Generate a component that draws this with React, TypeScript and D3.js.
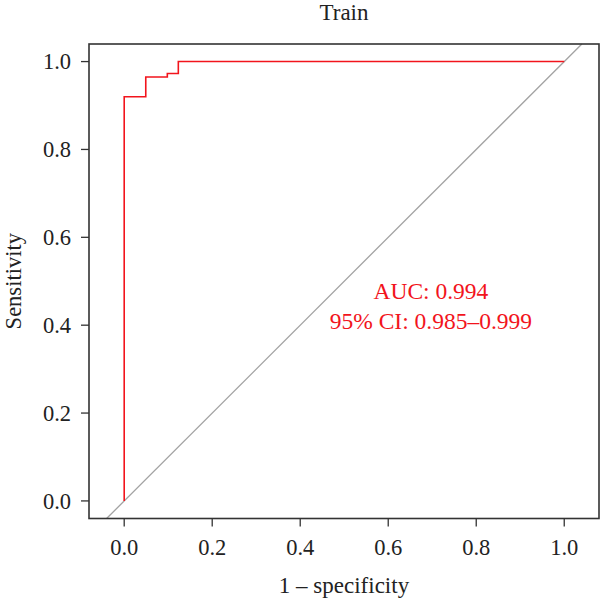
import { useEffect, useRef } from "react";
import * as d3 from "d3";

// ROC points (x = 1 - specificity, y = sensitivity)
const fpr = [0, 0, 0.049, 0.049, 0.098, 0.098, 0.123, 0.123, 1];
const tpr = [0, 0.92, 0.92, 0.965, 0.965, 0.973, 0.973, 1, 1];
const ticks = [0, 0.2, 0.4, 0.6, 0.8, 1.0];
const title = "Train";
const aucLines = ["AUC: 0.994", "95% CI: 0.985\u20130.999"];

const FONT = "'Liberation Serif', 'DejaVu Serif', serif";

const App = () => {
  const ref = useRef<SVGSVGElement>(null);

  useEffect(() => {
    const width = 600;
    const height = 604;
    const svg = d3.select(ref.current);
    svg.selectAll("*").remove();
    svg.attr("width", width).attr("height", height);

    const x = d3.scaleLinear().domain([-0.08, 1.079]).range([89, 599]);
    const y = d3.scaleLinear().domain([-0.04, 1.04]).range([518.5, 44]);

    const [x0, x1] = x.range();
    const [y0, y1] = y.range();

    // diagonal reference line
    const lim = y.domain();
    svg.append("line")
      .attr("x1", x(lim[0])).attr("y1", y(lim[0]))
      .attr("x2", x(lim[1])).attr("y2", y(lim[1]))
      .attr("stroke", "#a3a3a3")
      .attr("stroke-width", 1.3);

    // ROC curve
    const pts = fpr.map((f, i) => [f, tpr[i]] as [number, number]);
    svg.append("path")
      .datum(pts)
      .attr("fill", "none")
      .attr("stroke", "#f2141c")
      .attr("stroke-width", 1.6)
      .attr("d", d3.line<[number, number]>().x((d) => x(d[0])).y((d) => y(d[1])));

    // frame
    svg.append("rect")
      .attr("x", x0).attr("y", y1)
      .attr("width", x1 - x0).attr("height", y0 - y1)
      .attr("fill", "none")
      .attr("stroke", "#333")
      .attr("stroke-width", 1.6);

    // x axis
    const xa = svg.append("g");
    xa.selectAll("line").data(ticks).join("line")
      .attr("x1", (d) => x(d)).attr("x2", (d) => x(d))
      .attr("y1", y0).attr("y2", y0 + 8)
      .attr("stroke", "#333").attr("stroke-width", 1.3);
    xa.selectAll("text").data(ticks).join("text")
      .attr("x", (d) => x(d)).attr("y", 555)
      .attr("text-anchor", "middle")
      .attr("font-family", FONT).attr("font-size", 22.5)
      .attr("fill", "#222")
      .text((d) => d.toFixed(1));

    // y axis
    const ya = svg.append("g");
    ya.selectAll("line").data(ticks).join("line")
      .attr("x1", x0 - 8).attr("x2", x0)
      .attr("y1", (d) => y(d)).attr("y2", (d) => y(d))
      .attr("stroke", "#333").attr("stroke-width", 1.3);
    ya.selectAll("text").data(ticks).join("text")
      .attr("x", 71).attr("y", (d) => y(d))
      .attr("dy", "0.35em")
      .attr("text-anchor", "end")
      .attr("font-family", FONT).attr("font-size", 22.5)
      .attr("fill", "#222")
      .text((d) => d.toFixed(1));

    // titles
    svg.append("text")
      .attr("x", (x0 + x1) / 2).attr("y", 20)
      .attr("text-anchor", "middle")
      .attr("font-family", FONT).attr("font-size", 23)
      .attr("fill", "#222")
      .text(title);

    svg.append("text")
      .attr("x", (x0 + x1) / 2).attr("y", 593)
      .attr("text-anchor", "middle")
      .attr("font-family", FONT).attr("font-size", 23)
      .attr("fill", "#222")
      .text("1 \u2013 specificity");

    svg.append("text")
      .attr("transform", `translate(21,${(y0 + y1) / 2}) rotate(-90)`)
      .attr("text-anchor", "middle")
      .attr("font-family", FONT).attr("font-size", 22.5)
      .attr("fill", "#222")
      .text("Sensitivity");

    // AUC annotation
    svg.append("g")
      .selectAll("text").data(aucLines).join("text")
      .attr("x", x(0.697)).attr("y", (_, i) => 299 + i * 29.5)
      .attr("text-anchor", "middle")
      .attr("font-family", FONT).attr("font-size", 23.5)
      .attr("fill", "#f2141c")
      .text((d) => d);
  }, []);

  return (
    <svg ref={ref} style={{ position: "absolute", left: 0, top: 0 }}></svg>
  );
};

export default App;
